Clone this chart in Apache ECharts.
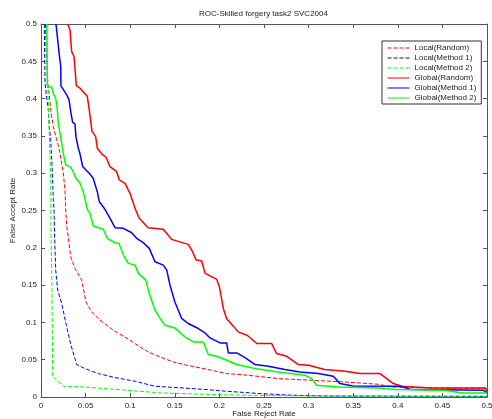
<!DOCTYPE html>
<html>
<head>
<meta charset="utf-8">
<script src="https://cdn.jsdelivr.net/npm/echarts@6/dist/echarts.min.js"></script>
<style>html,body{margin:0;padding:0;background:#fff}#c{width:492px;height:419px}</style>
</head>
<body>
<div id="c"></div>
<script>
var titleText = 'ROC-Skilled forgery task2 SVC2004';
var xName = 'False Reject Rate';
var yName = 'False Accept Rate';
var seriesNames = ['Local(Random)','Local(Method 1)','Local(Method 2)','Global(Random)','Global(Method 1)','Global(Method 2)'];

var localRandom = [[0.005,0.5],[0.0062,0.452],[0.0078,0.4185],[0.0093,0.405],[0.0109,0.385],[0.0138,0.3625],[0.0176,0.3449],[0.0205,0.3315],[0.0232,0.3134],[0.025,0.3],[0.0269,0.2775],[0.0277,0.2516],[0.0288,0.2305],[0.0333,0.188],[0.0381,0.1724],[0.0456,0.1567],[0.0504,0.1276],[0.0568,0.1141],[0.0661,0.103],[0.081,0.0896],[0.0979,0.0775],[0.111,0.0671],[0.1203,0.0604],[0.1334,0.0537],[0.1483,0.047],[0.1633,0.0426],[0.1858,0.0372],[0.2082,0.0314],[0.2324,0.0291],[0.266,0.0247],[0.3035,0.0224],[0.3408,0.0201],[0.378,0.0171],[0.393,0.0134],[0.438,0.0121],[0.5,0.0113]];

var localMethod1 = [[0.0037,0.5],[0.0045,0.4208],[0.0064,0.4006],[0.0082,0.385],[0.0093,0.3625],[0.0109,0.3449],[0.012,0.3181],[0.0131,0.2913],[0.0138,0.2645],[0.0146,0.2516],[0.0154,0.2104],[0.0165,0.17],[0.0187,0.1433],[0.0232,0.1254],[0.0288,0.094],[0.0336,0.0694],[0.04,0.0435],[0.0493,0.0381],[0.0642,0.0314],[0.083,0.026],[0.1054,0.0211],[0.1278,0.0144],[0.1595,0.0121],[0.1858,0.0099],[0.2082,0.0077],[0.2455,0.0046],[0.2829,0.0023],[0.322,0.0013],[0.5,0.0009]];

var localMethod2 = [[0.0064,0.5],[0.0075,0.4208],[0.0093,0.3537],[0.0109,0.2865],[0.0112,0.2238],[0.012,0.1678],[0.0127,0.0896],[0.0131,0.0269],[0.0157,0.0247],[0.025,0.0144],[0.0493,0.0134],[0.0867,0.0099],[0.1353,0.0054],[0.197,0.0032],[0.2324,0.0023],[0.3128,0.0013],[0.5,0.0009]];

var globalRandom = [[0.03,0.5],[0.0325,0.492],[0.0344,0.463],[0.037,0.4565],[0.0396,0.4175],[0.0437,0.414],[0.0519,0.403],[0.0541,0.385],[0.0572,0.356],[0.0613,0.349],[0.0631,0.3335],[0.068,0.326],[0.0729,0.3214],[0.0774,0.3088],[0.0849,0.302],[0.0878,0.291],[0.0942,0.2863],[0.0998,0.273],[0.1054,0.253],[0.11,0.24],[0.12,0.227],[0.137,0.2248],[0.1465,0.2113],[0.165,0.2046],[0.169,0.197],[0.174,0.1835],[0.18,0.1826],[0.184,0.1657],[0.197,0.1576],[0.2,0.1477],[0.2044,0.1187],[0.208,0.1053],[0.2156,0.095],[0.221,0.0873],[0.231,0.0828],[0.242,0.0717],[0.2586,0.0717],[0.264,0.0583],[0.2755,0.0546],[0.2885,0.0435],[0.3,0.0426],[0.318,0.0368],[0.341,0.0345],[0.3576,0.0314],[0.38,0.0314],[0.3876,0.0247],[0.395,0.018],[0.4044,0.0144],[0.438,0.0121],[0.4978,0.0121],[0.5,0.0077]];

var globalMethod1 = [[0.0168,0.5],[0.0187,0.479],[0.0205,0.4586],[0.0221,0.443],[0.0224,0.417],[0.0288,0.405],[0.0314,0.3986],[0.0336,0.3805],[0.0355,0.368],[0.0381,0.366],[0.0392,0.349],[0.0418,0.3335],[0.0437,0.326],[0.0467,0.309],[0.0504,0.3044],[0.0541,0.3],[0.0586,0.293],[0.0631,0.2752],[0.0654,0.2618],[0.0717,0.2516],[0.0774,0.2395],[0.083,0.227],[0.0923,0.2261],[0.1017,0.2202],[0.1073,0.2127],[0.1147,0.2068],[0.1214,0.1992],[0.1278,0.1813],[0.1371,0.1768],[0.141,0.17],[0.1446,0.15],[0.15,0.1276],[0.1577,0.1053],[0.165,0.0985],[0.1763,0.0918],[0.1839,0.0859],[0.1895,0.0792],[0.2007,0.0725],[0.2082,0.0725],[0.21,0.0591],[0.2194,0.0591],[0.2287,0.0529],[0.24,0.0435],[0.2548,0.0412],[0.2735,0.0368],[0.29,0.0336],[0.311,0.0314],[0.3277,0.0278],[0.335,0.018],[0.35,0.0148],[0.4025,0.0144],[0.4156,0.0099],[0.496,0.009],[0.5,0.0054]];

var globalMethod2 = [[0.0064,0.5],[0.0071,0.417],[0.0093,0.4165],[0.012,0.4154],[0.0138,0.4074],[0.0168,0.3984],[0.0183,0.385],[0.0194,0.367],[0.0213,0.3537],[0.0232,0.34],[0.025,0.3268],[0.0277,0.311],[0.0325,0.3088],[0.0355,0.3034],[0.0392,0.2932],[0.0437,0.2865],[0.0474,0.2752],[0.0504,0.2597],[0.0519,0.2516],[0.0549,0.2462],[0.0586,0.2292],[0.0698,0.2248],[0.0743,0.2127],[0.083,0.2068],[0.0874,0.206],[0.0923,0.1903],[0.0979,0.1791],[0.1054,0.1768],[0.1091,0.1657],[0.1174,0.1567],[0.1214,0.1388],[0.1278,0.1164],[0.1334,0.1053],[0.139,0.0963],[0.15,0.0926],[0.1614,0.0806],[0.1707,0.0738],[0.182,0.0738],[0.1876,0.0569],[0.197,0.0546],[0.2082,0.0493],[0.2194,0.0435],[0.2324,0.0403],[0.24,0.0381],[0.266,0.0336],[0.296,0.0291],[0.3035,0.0247],[0.309,0.0157],[0.3333,0.0134],[0.378,0.0121],[0.397,0.0099],[0.453,0.009],[0.4716,0.0054],[0.5,0.0054]];

var allData = [localRandom, localMethod1, localMethod2, globalRandom, globalMethod1, globalMethod2];
var colors = ['#ff0000','#0000ff','#00ff00','#ff0000','#0000ff','#00ff00'];
var dashed = [true,true,true,false,false,false];

var font = 'Liberation Sans, Arial, Helvetica, sans-serif';
var axisColor = '#555';
var chart = echarts.init(document.getElementById('c'), null, {renderer:'canvas'});

var series = allData.map(function(d, i){
  return {
    name: seriesNames[i], type: 'line', data: d, symbol: 'none', showSymbol: false, animation: false,
    xAxisIndex: 0, yAxisIndex: 0,
    lineStyle: {color: colors[i], width: dashed[i] ? 1 : 1.5, type: dashed[i] ? [4,2] : 'solid'},
    itemStyle: {color: colors[i]}
  };
});

function axisCommon(extra){
  var base = {
    type: 'value', min: 0, max: 0.5, interval: 0.05,
    axisLine: {show: true, onZero: false, lineStyle: {color: axisColor, width: 1}},
    axisTick: {show: true, inside: true, length: 4, lineStyle: {color: axisColor}},
    splitLine: {show: false},
    axisLabel: {show: true, color: '#222', fontSize: 8, fontFamily: font}
  };
  for (var k in extra) base[k] = extra[k];
  return base;
}

chart.setOption({
  backgroundColor: '#fff',
  animation: false,
  title: {text: titleText, left: 199, top: 10, padding: 0, textStyle: {fontSize: 8, fontWeight: 'normal', color: '#222', fontFamily: font}},
  grid: {left: 41, right: 5, top: 24, bottom: 22, containLabel: false, outerBoundsMode: 'none'},
  legend: {
    data: seriesNames, orient: 'vertical', left: 382, top: 41,
    borderColor: '#333', borderWidth: 1, backgroundColor: '#fff',
    padding: [3,5,2,5], itemWidth: 22, itemHeight: 10, itemGap: 2,
    itemStyle: {opacity: 0},
    lineStyle: {width: 1},
    textStyle: {fontSize: 8, color: '#222', fontFamily: font}
  },
  xAxis: [
    axisCommon({position: 'bottom', name: xName, nameLocation: 'middle', nameGap: 13, nameMoveOverlap: false,
      nameTextStyle: {fontSize: 8, color: '#222', fontFamily: font},
      axisLabel: {show: true, color: '#222', fontSize: 8, fontFamily: font, margin: 5}}),
    axisCommon({position: 'top', axisLabel: {show: false}})
  ],
  yAxis: [
    axisCommon({position: 'left', name: yName, nameLocation: 'middle', nameGap: 24, nameMoveOverlap: false,
      nameTextStyle: {fontSize: 8, color: '#222', fontFamily: font},
      axisLabel: {show: true, color: '#222', fontSize: 8, fontFamily: font, margin: 4}}),
    axisCommon({position: 'right', axisLabel: {show: false}})
  ],
  series: series
});
</script>
</body>
</html>
